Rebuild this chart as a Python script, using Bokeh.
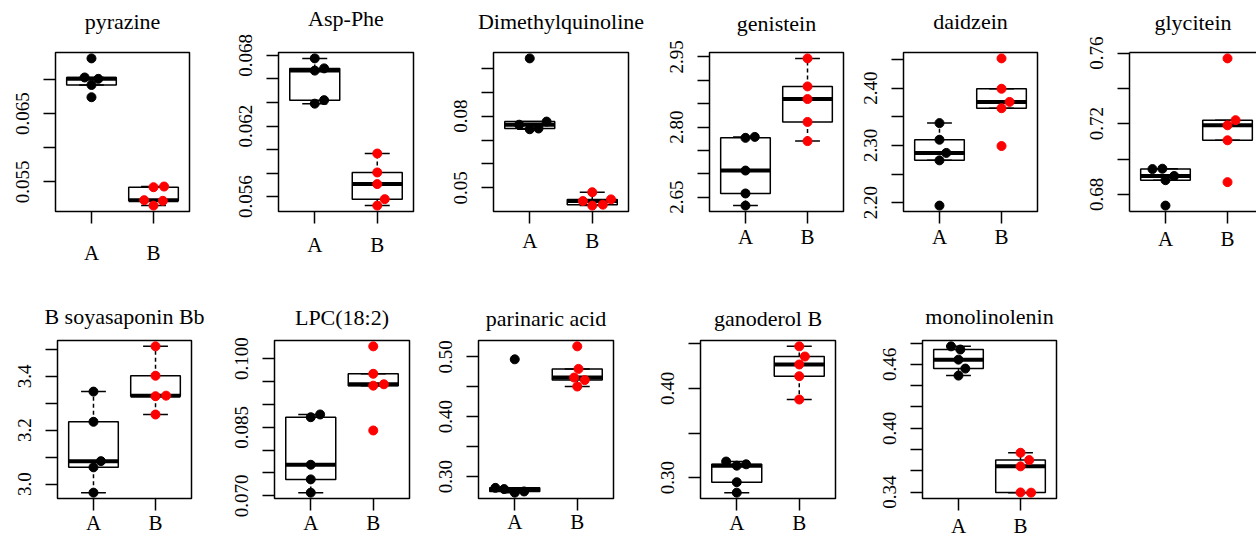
import numpy as np
from bokeh.plotting import figure
from bokeh.layouts import row, column
from bokeh.models import FixedTicker, CustomJSTickFormatter, LinearAxis, Range1d, Title
from bokeh.embed import file_html
from bokeh.resources import INLINE

# ------------------------------------------------------------------ data
titles = ["pyrazine", "Asp-Phe", "Dimethylquinoline", "genistein", "daidzein",
          "glycitein", "B soyasaponin Bb", "LPC(18:2)", "parinaric acid",
          "ganoderol B", "monolinolenin"]
groups = ["A", "B"]

pyrazine_A = [0.0731, 0.0703, 0.0701, 0.0692, 0.0674]
pyrazine_B = [0.0542, 0.0543, 0.0523, 0.0522, 0.0515]
asp_phe_A = [0.06775, 0.06671, 0.0669, 0.0639, 0.0642]
asp_phe_B = [0.05966, 0.05805, 0.05706, 0.05578, 0.05523]
dimethylquinoline_A = [0.1041, 0.0764, 0.0745, 0.0748, 0.0777]
dimethylquinoline_B = [0.0482, 0.0445, 0.0452, 0.0426, 0.0430]
genistein_A = [2.777, 2.779, 2.707, 2.658, 2.632]
genistein_B = [2.947, 2.887, 2.860, 2.811, 2.770]
daidzein_A = [2.339, 2.310, 2.287, 2.274, 2.195]
daidzein_B = [2.452, 2.399, 2.376, 2.365, 2.299]
glycitein_A = [0.6943, 0.6945, 0.6904, 0.6880, 0.6736]
glycitein_B = [0.7570, 0.7220, 0.7191, 0.7106, 0.6869]
soyasaponin_A = [3.343, 3.231, 3.085, 3.062, 2.968]
soyasaponin_B = [3.511, 3.402, 3.326, 3.328, 3.258]
lpc_A = [0.0872, 0.0878, 0.0768, 0.0736, 0.0707]
lpc_B = [0.1027, 0.0967, 0.0944, 0.0941, 0.0843]
parinaric_A = [0.496, 0.281, 0.279, 0.273, 0.275]
parinaric_B = [0.5177, 0.480, 0.4655, 0.4613, 0.4505]
ganoderol_A = [0.3181, 0.3135, 0.3150, 0.2950, 0.2833]
ganoderol_B = [0.447, 0.4356, 0.4267, 0.4136, 0.3875]
monolinolenin_A = [0.477, 0.474, 0.4645, 0.4561, 0.4495]
monolinolenin_B = [0.377, 0.3701, 0.3642, 0.3397, 0.3395]

values = [(pyrazine_A, pyrazine_B), (asp_phe_A, asp_phe_B),
          (dimethylquinoline_A, dimethylquinoline_B), (genistein_A, genistein_B),
          (daidzein_A, daidzein_B), (glycitein_A, glycitein_B),
          (soyasaponin_A, soyasaponin_B), (lpc_A, lpc_B),
          (parinaric_A, parinaric_B), (ganoderol_A, ganoderol_B),
          (monolinolenin_A, monolinolenin_B)]

# horizontal point spread (x units)
jitters = [([0, -0.11, 0.11, 0, 0], [0, 0.17, -0.15, 0.15, 0]),
           ([0, 0, 0.15, 0, 0.15], [0, 0, 0, 0.12, 0]),
           ([0, -0.17, 0, 0.14, 0.27], [0, -0.15, 0.30, 0, 0.17]),
           ([0, 0.15, 0, 0, 0], [0, 0, 0, 0, 0]),
           ([0, 0, 0.11, 0, 0], [0, 0, 0.13, 0, 0]),
           ([-0.21, -0.05, 0.14, 0, 0], [0, 0.13, 0, 0, 0]),
           ([0, 0, 0.12, 0, 0], [0, 0, 0, 0.17, 0]),
           ([0, 0.15, 0, 0, 0], [0, 0, 0.17, 0, 0]),
           ([0, -0.31, -0.17, 0, 0.15], [0, 0.02, -0.05, 0.12, 0]),
           ([-0.17, 0, 0.15, 0, 0], [0, 0.09, 0, 0, 0]),
           ([-0.12, 0.03, 0, 0.11, 0], [0, 0.14, 0, 0, 0.17])]

y_ticks = [[0.055, 0.060, 0.065, 0.070],
           [0.056, 0.058, 0.060, 0.062, 0.064, 0.066, 0.068],
           [0.05, 0.06, 0.07, 0.08, 0.09, 0.10],
           [2.65, 2.70, 2.75, 2.80, 2.85, 2.90, 2.95],
           [2.20, 2.25, 2.30, 2.35, 2.40, 2.45],
           [0.68, 0.70, 0.72, 0.74, 0.76],
           [3.0, 3.1, 3.2, 3.3, 3.4, 3.5],
           [0.070, 0.075, 0.080, 0.085, 0.090, 0.095, 0.100],
           [0.30, 0.35, 0.40, 0.45, 0.50],
           [0.30, 0.35, 0.40, 0.45],
           [0.34, 0.36, 0.38, 0.40, 0.42, 0.44, 0.46, 0.48]]
y_tick_labels = [["0.055", "", "0.065", ""],
                 ["0.056", "", "", "0.062", "", "", "0.068"],
                 ["0.05", "", "", "0.08", "", ""],
                 ["2.65", "", "", "2.80", "", "", "2.95"],
                 ["2.20", "", "2.30", "", "2.40", ""],
                 ["0.68", "", "0.72", "", "0.76"],
                 ["3.0", "", "3.2", "", "3.4", ""],
                 ["0.070", "", "", "0.085", "", "", "0.100"],
                 ["0.30", "", "0.40", "", "0.50"],
                 ["0.30", "", "0.40", ""],
                 ["0.34", "", "", "0.40", "", "", "0.46", ""]]

# ------------------------------------------------------------------ layout (page px)
ROW_TOP = [0, 286]
ROW_BOTTOM = [286, 540]
FIG_X = [(0, 231), (231, 446), (446, 662), (662, 856), (856, 1082), (1082, 1256),
         (0, 227), (227, 431), (431, 653), (653, 875), (875, 1090)]
FRAME_X = [(55, 189), (278, 413), (493, 628), (709, 843), (903, 1037), (1129, 1263),
           (57, 191), (274, 409), (478, 613), (700, 835), (922, 1056)]
FRAME_Y = [(52, 218), (51, 216), (48, 214), (49, 215), (46, 211), (46, 211),
           (337, 504), (336, 504), (340, 505), (338, 504), (335, 501)]
TITLE_GAP = [16, 19, 16, 14, 16, 15, 9, 8, 7, 7, 9]
AB_STANDOFF = [17, 9, 5, 1, 1, 3, 0, 0, -1, 0, 3]

SERIF = "Liberation Serif"
LW = 1.5


def fivenum(v):
    s = sorted(v)
    n = len(s)
    n4 = np.floor((n + 3) / 2) / 2
    d = [1, n4, (n + 1) / 2, n + 1 - n4, n]
    return [0.5 * (s[int(np.floor(k)) - 1] + s[int(np.ceil(k)) - 1]) for k in d]


def box_stats(v):
    _, q1, med, q3, _ = fivenum(v)
    iqr = q3 - q1
    inside = [x for x in v if q1 - 1.5 * iqr <= x <= q3 + 1.5 * iqr]
    return q1, med, q3, min(inside), max(inside)


def make_panel(i):
    a, b = values[i]
    ja, jb = jitters[i]
    r = 0 if i < 6 else 1
    fx0, fx1 = FIG_X[i]
    gx0, gx1 = FRAME_X[i]
    gy0, gy1 = FRAME_Y[i]
    top, bottom = ROW_TOP[r], ROW_BOTTOM[r]
    vis_right = min(gx1, fx1)
    scale = 2.16 / (gx1 - gx0)
    xr = Range1d(0.42, 0.42 + (vis_right - gx0) * scale)
    allv = list(a) + list(b)
    lo, hi = min(allv), max(allv)
    pad = 0.04 * (hi - lo)
    yr = Range1d(lo - pad, hi + pad)

    p = figure(width=fx1 - fx0, height=bottom - top, x_range=xr, y_range=yr,
               min_border_left=gx0 - fx0, min_border_right=fx1 - vis_right,
               min_border_top=gy0 - top, min_border_bottom=bottom - gy1,
               output_backend="svg", toolbar_location=None, tools="")
    p.xgrid.visible = False
    p.ygrid.visible = False
    p.background_fill_color = "white"
    p.border_fill_color = "white"

    xa = p.xaxis[0]
    xa.ticker = FixedTicker(ticks=[1, 2])
    xa.major_label_overrides = {1: groups[0], 2: groups[1]}
    xa.major_label_text_font = SERIF
    xa.major_label_text_font_size = "21px"
    xa.major_label_text_color = "black"
    xa.major_label_standoff = AB_STANDOFF[i]
    xa.major_tick_out = 12
    xa.major_tick_in = 0
    xa.major_tick_line_color = "black"
    xa.major_tick_line_width = LW
    xa.minor_tick_line_color = None

    ya = p.yaxis[0]
    ya.ticker = FixedTicker(ticks=y_ticks[i])
    ya.formatter = CustomJSTickFormatter(
        args=dict(vals=y_ticks[i], labs=y_tick_labels[i]),
        code="""
        for (let k = 0; k < vals.length; k++) {
            if (Math.abs(vals[k] - tick) < 1e-9) { return labs[k]; }
        }
        return "";
        """)
    ya.major_label_orientation = "vertical"
    ya.major_label_text_font = SERIF
    ya.major_label_text_font_size = "19px"
    ya.major_label_text_color = "black"
    ya.major_label_standoff = 14
    ya.major_tick_out = 12
    ya.major_tick_in = 0
    ya.major_tick_line_color = "black"
    ya.major_tick_line_width = LW
    ya.minor_tick_line_color = None

    if vis_right < gx1:
        p.outline_line_color = None
        xa.axis_line_color = "black"
        xa.axis_line_width = LW
        ya.axis_line_color = "black"
        ya.axis_line_width = LW
        top_axis = LinearAxis(ticker=FixedTicker(ticks=[]), axis_line_color="black",
                              axis_line_width=LW, major_tick_line_color=None,
                              major_tick_out=0, major_label_standoff=0,
                              minor_tick_line_color=None,
                              formatter=CustomJSTickFormatter(code="return '';"),
                              major_label_text_font_size="1px")
        p.add_layout(top_axis, "above")
    else:
        p.outline_line_color = "black"
        p.outline_line_width = LW
        xa.axis_line_color = None
        ya.axis_line_color = None

    # spacer between frame and title, then the title itself
    p.add_layout(Title(text=" ", text_font_size="1px", standoff=TITLE_GAP[i]), "above")
    p.add_layout(Title(text=titles[i], align="center", text_font=SERIF,
                       text_font_size="22px", text_font_style="normal",
                       text_color="black", standoff=0), "above")

    for pos, vals, jit, col in ((1, a, ja, "black"), (2, b, jb, "red")):
        q1, med, q3, wl, wh = box_stats(vals)
        p.quad(left=[pos - 0.4], right=[pos + 0.4], bottom=[q1], top=[q3],
               fill_color="white", line_color="black", line_width=LW)
        if wh > q3:
            p.segment(x0=[pos], y0=[q3], x1=[pos], y1=[wh], line_color="black",
                      line_width=LW, line_dash="4 3")
        if wl < q1:
            p.segment(x0=[pos], y0=[q1], x1=[pos], y1=[wl], line_color="black",
                      line_width=LW, line_dash="4 3")
        p.segment(x0=[pos - 0.2, pos - 0.2], y0=[wh, wl], x1=[pos + 0.2, pos + 0.2],
                  y1=[wh, wl], line_color="black", line_width=LW)
        p.segment(x0=[pos - 0.4], y0=[med], x1=[pos + 0.4], y1=[med],
                  line_color="black", line_width=4)
        p.scatter(x=[pos + j for j in jit], y=vals, size=9, fill_color=col,
                  line_color=col, marker="circle")
    return p


panels = [make_panel(i) for i in range(len(titles))]
layout = column(row(*panels[:6]), row(*panels[6:]))

open("out.html", "w").write(file_html(layout, INLINE))
